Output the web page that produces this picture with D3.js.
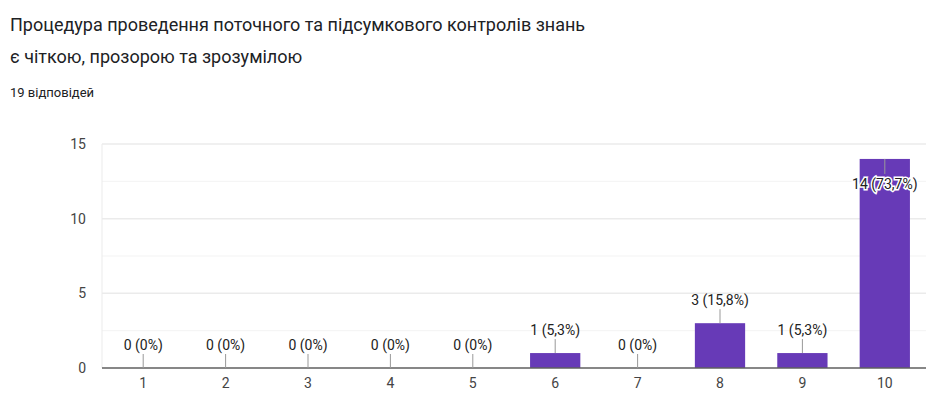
<!DOCTYPE html>
<html><head><meta charset="utf-8">
<script src="https://cdn.jsdelivr.net/npm/d3@7"></script>
<style>body{margin:0;background:#fff;font-family:Roboto,Arial,sans-serif}</style>
</head><body><svg id="c" width="937" height="410"></svg>
<script>
const categories = ["1","2","3","4","5","6","7","8","9","10"];
const values = [0,0,0,0,0,1,0,3,1,14];
const labels = ["0 (0%)","0 (0%)","0 (0%)","0 (0%)","0 (0%)","1 (5,3%)","0 (0%)","3 (15,8%)","1 (5,3%)","14 (73,7%)"];
const yTicks = [0,5,10,15];
const minorTicks = [2.5,7.5,12.5];

const svg = d3.select("#c");
svg.append("text").attr("x",10).attr("y",31).attr("font-size",18).attr("fill","#202124")
  .text("Процедура проведення поточного та підсумкового контролів знань");
svg.append("text").attr("x",10).attr("y",63).attr("font-size",18).attr("fill","#202124")
  .text("є чіткою, прозорою та зрозумілою");
svg.append("text").attr("x",10).attr("y",97).attr("font-size",13).attr("fill","#202124")
  .text("19 відповідей");

const L=102,R=926,T=144,B=368;
const x = d3.scaleBand().domain(categories).range([L,R]).paddingInner(0.39).paddingOuter(0.195);
const y = d3.scaleLinear().domain([0,15]).range([B,T]);

const g = svg.append("g");
g.selectAll("line.minor").data(minorTicks).join("line")
  .attr("x1",L).attr("x2",R).attr("y1",d=>y(d)).attr("y2",d=>y(d)).attr("stroke","#f3f3f3");
g.selectAll("line.major").data(yTicks.filter(d=>d>0)).join("line")
  .attr("x1",L).attr("x2",R).attr("y1",d=>y(d)).attr("y2",d=>y(d)).attr("stroke","#ebebeb").attr("stroke-width",1.5);
g.append("line").attr("x1",L).attr("x2",L).attr("y1",T).attr("y2",B).attr("stroke","#ebebeb");
g.selectAll("text.yt").data(yTicks).join("text")
  .attr("x",86).attr("y",d=>y(d)+5).attr("text-anchor","end").attr("font-size",14).attr("fill","#444").text(d=>d);

g.selectAll("rect").data(values).join("rect")
  .attr("x",(d,i)=>x(categories[i])).attr("width",x.bandwidth())
  .attr("y",d=>y(d)).attr("height",d=>B-y(d)).attr("fill","#673ab7");

g.append("line").attr("x1",L).attr("x2",R).attr("y1",B).attr("y2",B).attr("stroke","#5f5f5f").attr("stroke-width",1.5);

g.selectAll("text.xt").data(categories).join("text")
  .attr("x",d=>x(d)+x.bandwidth()/2).attr("y",B+20).attr("text-anchor","middle")
  .attr("font-size",14).attr("fill","#444").text(d=>d);

values.forEach((v,i)=>{
  const cx = x(categories[i])+x.bandwidth()/2;
  const top = y(v);
  const inside = top-24 < T;
  const ly = inside ? top+30 : top-18;
  const l1 = inside ? top : top-14;
  const l2 = inside ? top+15 : top;
  g.append("line").attr("x1",cx).attr("x2",cx).attr("y1",l1).attr("y2",l2).attr("stroke","#999");
  const t = g.append("text").attr("x",cx).attr("y",ly).attr("text-anchor","middle")
    .attr("font-size",14).attr("fill","#222").text(labels[i]);
  if(inside) t.attr("stroke","#fff").attr("stroke-width",3).attr("paint-order","stroke");
});
</script></body></html>
